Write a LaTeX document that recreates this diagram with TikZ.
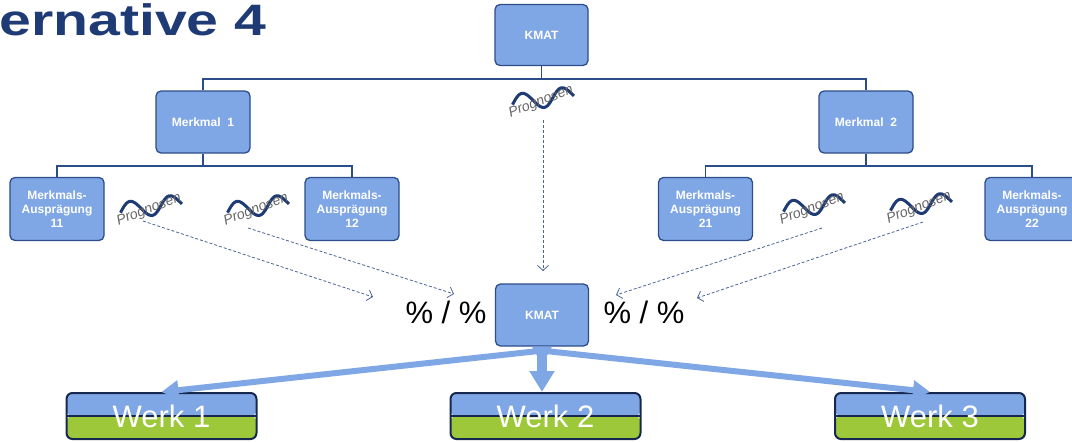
\documentclass[tikz,border=0pt]{standalone}
\usepackage{fontspec}
\setmainfont{Liberation Sans}
\usetikzlibrary{arrows.meta,calc}

\definecolor{boxfill}{HTML}{80A7E5}
\definecolor{boxline}{HTML}{2C4D8A}
\definecolor{navy}{HTML}{16284F}
\definecolor{titleblue}{HTML}{1F3B75}
\definecolor{werkgreen}{HTML}{9DC83A}
\definecolor{wavecol}{HTML}{1F3B75}
\definecolor{dashcol}{HTML}{4A6496}

\tikzset{
  card/.style={draw=boxline, line width=1.3pt, fill=boxfill, rounded corners=5pt,
    text=white, align=center, inner sep=0pt,
    font=\bfseries\fontsize{12}{14}\selectfont},
  tree/.style={draw=boxline, line width=1.3pt},
  fc/.style={draw=dashcol, line width=0.8pt, dash pattern=on 3pt off 2pt,
    -{Straight Barb[length=5pt,width=11pt]}},
  fat/.style={draw=boxfill, line width=6pt, -{Triangle[length=17pt,width=19pt]}},
  fatter/.style={draw=boxfill, line width=10pt, -{Triangle[length=21pt,width=24pt]}},
  werk/.style={draw=navy, line width=2pt, rounded corners=6pt,
    minimum width=190pt, minimum height=46pt, inner sep=0pt,
    text=white, font=\fontsize{31}{31}\selectfont,
    path picture={
      \fill[werkgreen] (path picture bounding box.west) rectangle (path picture bounding box.south east);
      \fill[boxfill] (path picture bounding box.north west) rectangle (path picture bounding box.east);
      \draw[navy, line width=1.6pt] (path picture bounding box.west) -- (path picture bounding box.east);
    }},
  prog/.pic={
    \draw[wavecol, line width=3pt, rotate=8]
      plot[domain=-31:31, samples=60, smooth] (\x, {-8.5*cos(9*(\x+20))});
    \node[rotate=21, text=gray!80!black, inner sep=0pt,
      font=\itshape\fontsize{14}{14}\selectfont] at (-2,3) {Prognosen};
  },
  ratio/.style={font=\fontsize{31}{31}\selectfont, inner sep=0pt}
}

\begin{document}
\begin{tikzpicture}[x=1pt, y=-1pt]
\useasboundingbox (0,0) rectangle (1072,442);

% heading
\node[anchor=base west, inner sep=0pt, xscale=1.3, transform shape, text=titleblue,
  font=\bfseries\fontsize{44}{44}\selectfont] (title) at (-1,35) {ernative 4};

% hierarchy boxes
\node[card, minimum width=93pt, minimum height=61pt] (kmatA) at (541.5,35) {KMAT};
\node[card, minimum width=94pt, minimum height=62pt] (m1) at (203,122) {Merkmal\ \ 1};
\node[card, minimum width=94pt, minimum height=62pt] (m2) at (866,122) {Merkmal\ \ 2};
\node[card, minimum width=94pt, minimum height=63pt] (a11) at (57,209) {Merkmals-\\Ausprägung\\11};
\node[card, minimum width=94pt, minimum height=63pt] (a12) at (352,209) {Merkmals-\\Ausprägung\\12};
\node[card, minimum width=94pt, minimum height=63pt] (a21) at (705.5,209) {Merkmals-\\Ausprägung\\21};
\node[card, minimum width=94pt, minimum height=63pt] (a22) at (1032,209) {Merkmals-\\Ausprägung\\22};

% tree connectors
\coordinate (bus1) at (541.5,79);
\coordinate (bus2) at (203,166);
\coordinate (bus3) at (866,166);
\draw[tree] (kmatA.south) -- (bus1);
\draw[tree] (m1.north) |- (bus1) -| (m2.north);
\draw[tree] (m1.south) -- (bus2);
\draw[tree] (a11.north) |- (bus2) -| (a12.north);
\draw[tree] (m2.south) -- (bus3);
\draw[tree] (a21.north) |- (bus3) -| (a22.north);

% forecast symbols
\pic at (543,99) {prog};
\pic at (151,207) {prog};
\pic at (258,207) {prog};
\pic at (814,206) {prog};
\pic at (921,205) {prog};

% central node and ratios
\node[card, minimum width=93pt, minimum height=62pt] (kmatB) at (542,315) {KMAT};
\node[ratio] (rl) at (446,312) {\% / \%};
\node[ratio] (rr) at (644,312) {\% / \%};

% dashed forecast flows
\coordinate (s0) at (543,120);  \coordinate (t0) at (543,271);
\coordinate (s1) at (143,221);  \coordinate (t1) at (373,297);
\coordinate (s2) at (248,228);  \coordinate (t2) at (454,294);
\coordinate (s3) at (822,228);  \coordinate (t3) at (616,295);
\coordinate (s4) at (923,222);  \coordinate (t4) at (697,298);
\draw[fc] (s0) -- (t0);
\draw[fc] (s1) -- (t1);
\draw[fc] (s2) -- (t2);
\draw[fc] (s3) -- (t3);
\draw[fc] (s4) -- (t4);

% plants
\node[werk] (w1) at (161.5,416) {Werk 1};
\node[werk] (w2) at (545.5,416) {Werk 2};
\node[werk] (w3) at (930,416) {Werk 3};

% distribution arrows
\coordinate (hub) at ($(kmatB.south)+(0,4)$);
\fill[boxfill] ($(kmatB.south)+(-10,0)$) -- ($(kmatB.south)+(10,0)$)
  -- ($(kmatB.south)+(5,9)$) -- ($(kmatB.south)+(-5,9)$) -- cycle;
\draw[fat] (hub) -- (w1.north);
\draw[fat] (hub) -- (w3.north);
\draw[fatter] (kmatB.south) -- (kmatB.south |- w2.north);
\end{tikzpicture}
\end{document}
